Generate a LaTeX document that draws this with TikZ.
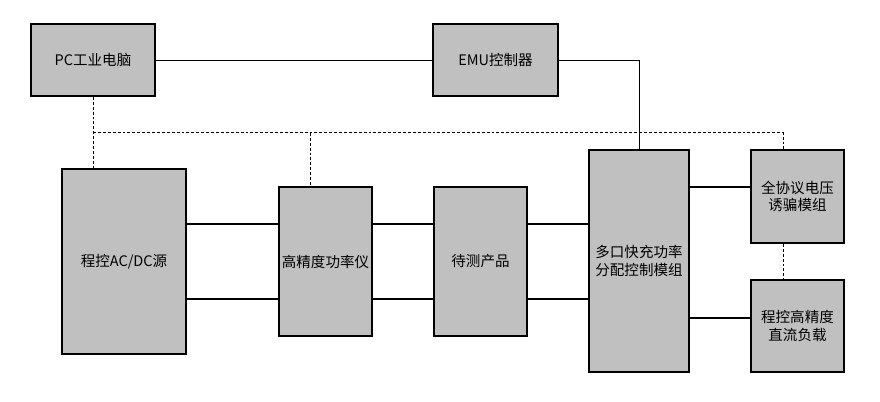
\documentclass[tikz,border=0pt]{standalone}
\usepackage{fontspec}
\setmainfont{Noto Sans CJK SC}
\usetikzlibrary{calc}

\begin{document}
\begin{tikzpicture}[
    font=\fontsize{12.4}{15}\selectfont,
    unit/.style={draw,line width=1.4pt,fill=unitfill,align=center,inner sep=1pt},
    powerline/.style={line width=1.1pt},
    signalline/.style={line width=0.8pt},
    ctrlline/.style={line width=0.7pt,dash pattern=on 2.5pt off 1.7pt},
]

\definecolor{unitfill}{RGB}{192,192,192}

\useasboundingbox (0,0) rectangle (26.4,-12.03);

% ---------- Top row: host and EMU controller ----------
\node[unit,minimum width=3.72cm,minimum height=2.16cm] (pc)  at (2.79,-1.8)   {PC工业电脑};
\node[unit,minimum width=3.75cm,minimum height=2.16cm] (emu) at (14.865,-1.8) {EMU控制器};

% ---------- Power path (lower row) ----------
\node[unit,minimum width=3.72cm,minimum height=5.55cm] (acdc)  at (3.72,-7.845)  {程控AC/DC源};
\node[unit,minimum width=2.79cm,minimum height=4.47cm] (meter) at (9.765,-7.845) {高精度功率仪};
\node[unit,minimum width=2.79cm,minimum height=4.47cm] (dut)   at (14.415,-7.845) {待测产品};
\node[unit,minimum width=3.0cm,minimum height=6.66cm]  (dist)  at (19.17,-7.83)  {多口快充功率\\分配控制模组};
\node[unit,minimum width=2.79cm,minimum height=2.79cm] (trig)  at (23.925,-5.895) {全协议电压\\诱骗模组};
\node[unit,minimum width=2.79cm,minimum height=2.76cm] (load)  at (23.925,-9.78)  {程控高精度\\直流负载};

% ---------- Double power lines between the row blocks ----------
\foreach \a/\b in {acdc/meter, meter/dut, dut/dist}{
  \foreach \dy in {1.125,-1.125}{
    \draw[powerline] ($(\a.east)+(0,\dy)$) coordinate (s) -- (s -| \b.west);
  }
}
\draw[powerline] ($(trig.west)+(0,0.285)$) coordinate (t) -- (t -| dist.east);
\draw[powerline] ($(load.west)+(0,0.24)$) coordinate (l) -- (l -| dist.east);

% ---------- Solid signal lines ----------
\draw[signalline] (pc.east) -- (emu.west);
\draw[signalline] (emu.east) -| (dist.north);

% ---------- Dashed control bus ----------
\coordinate (tap)  at ($(pc.south)+(0,-1.08)$);
\coordinate (mtap) at ($(meter.north)+(-0.465,0)$);
\coordinate (ttap) at ($(trig.north)+(-0.435,0)$);
\draw[ctrlline] (pc.south) -- (pc.south |- acdc.north);
\draw[ctrlline] (tap) -- (tap -| ttap) -- (ttap);
\draw[ctrlline] (tap -| mtap) -- (mtap);
\draw[ctrlline] (ttap |- trig.south) -- (ttap |- load.north);

\end{tikzpicture}
\end{document}
